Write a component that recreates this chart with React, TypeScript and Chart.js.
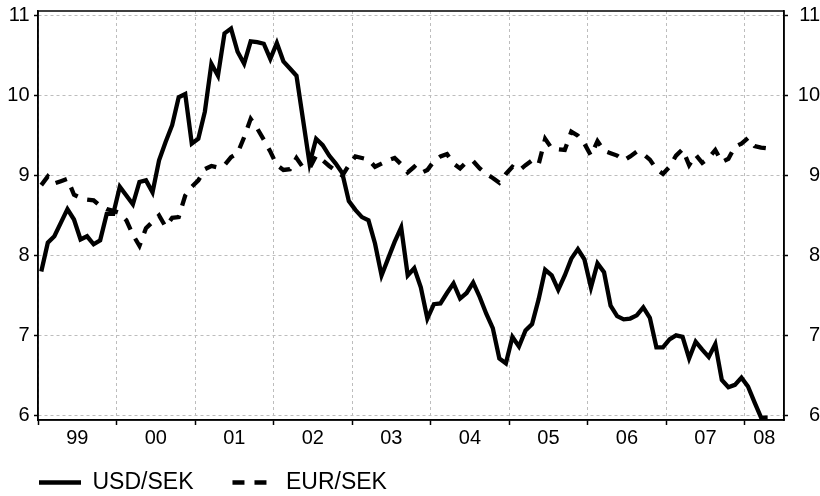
import { useEffect, useRef } from "react";
import { Chart, registerables } from "chart.js";

Chart.register(...registerables);

// Monthly observations, Jan 1999 .. Apr 2008 (x = months since Jan 1999, plotted mid-month)
const USD_SEK: number[] = [
  7.80, 8.16, 8.24, 8.41, 8.58, 8.45, 8.20, 8.24, 8.14, 8.19, 8.52, 8.52,
  8.86, 8.75, 8.64, 8.92, 8.94, 8.79, 9.19, 9.42, 9.63, 9.98, 10.02, 9.40,
  9.46, 9.80, 10.40, 10.25, 10.78, 10.84, 10.55, 10.40, 10.68, 10.67, 10.65, 10.46,
  10.66, 10.43, 10.34, 10.25, 9.70, 9.15, 9.46, 9.38, 9.25, 9.15, 9.03, 8.68,
  8.57, 8.48, 8.44, 8.15, 7.75, 7.96, 8.17, 8.35, 7.75, 7.84, 7.60, 7.21,
  7.39, 7.40, 7.53, 7.65, 7.46, 7.53, 7.66, 7.48, 7.27, 7.09, 6.71, 6.65,
  6.98, 6.86, 7.06, 7.14, 7.45, 7.82, 7.75, 7.57, 7.75, 7.96, 8.08, 7.95,
  7.60, 7.90, 7.79, 7.37, 7.24, 7.20, 7.21, 7.25, 7.35, 7.22, 6.85, 6.85,
  6.95, 7.00, 6.98, 6.71, 6.92, 6.82, 6.73, 6.89, 6.44, 6.35, 6.38, 6.47,
  6.36, 6.16, 5.97, 5.97,
];

const EUR_SEK: number[] = [
  8.88, 8.99, 8.90, 8.93, 8.96, 8.76, 8.72, 8.70, 8.69, 8.62, 8.58, 8.56,
  8.53, 8.44, 8.26, 8.12, 8.34, 8.42, 8.50, 8.36, 8.47, 8.48, 8.75, 8.86,
  8.94, 9.08, 9.12, 9.10, 9.13, 9.23, 9.28, 9.48, 9.71, 9.59, 9.45, 9.30,
  9.13, 9.07, 9.08, 9.22, 9.10, 9.09, 9.25, 9.19, 9.12, 9.06, 9.00, 9.13,
  9.24, 9.22, 9.20, 9.11, 9.15, 9.19, 9.22, 9.14, 9.04, 9.11, 9.03, 9.07,
  9.18, 9.24, 9.27, 9.15, 9.09, 9.17, 9.18, 9.09, 9.02, 8.97, 8.91, 9.02,
  9.11, 9.06, 9.13, 9.19, 9.14, 9.46, 9.34, 9.33, 9.32, 9.55, 9.50, 9.40,
  9.25, 9.43, 9.31, 9.28, 9.25, 9.19, 9.24, 9.30, 9.27, 9.20, 9.08, 9.02,
  9.11, 9.25, 9.33, 9.13, 9.26, 9.16, 9.22, 9.32, 9.17, 9.21, 9.36, 9.40,
  9.47, 9.37, 9.35, 9.34,
];

const YEAR_LABELS: string[] = ["99", "00", "01", "02", "03", "04", "05", "06", "07", "08"];
const Y_TICKS: number[] = [6, 7, 8, 9, 10, 11];
const Y_MIN = 5.94;
const Y_MAX = 11.06;
const X_MIN = 0; // Jan 1999
const X_MAX = 114; // mid 2008

const FONT = "'Liberation Sans', Arial, Helvetica, sans-serif";
const LINE_W = 4.3;

export default function App() {
  const ref = useRef<HTMLCanvasElement>(null);

  useEffect(() => {
    const canvas = ref.current;
    if (!canvas) return;

    const toPoints = (vals: number[]) => vals.map((v, i) => ({ x: i + 0.5, y: v }));
    const yearStarts = YEAR_LABELS.map((_, i) => i * 12);
    const yearCenters = yearStarts.map((s) => (s + Math.min(s + 12, X_MAX)) / 2);

    const frame = {
      id: "frame",
      afterDatasetsDraw(chart: any) {
        const { ctx, chartArea: a } = chart;
        ctx.save();
        ctx.strokeStyle = "#000";
        ctx.lineWidth = 1.5;
        ctx.setLineDash([]);
        ctx.strokeRect(a.left, a.top, a.right - a.left, a.bottom - a.top);
        ctx.restore();
      },
    };

    const chart = new Chart(canvas, {
      type: "line",
      data: {
        datasets: [
          {
            label: "USD/SEK",
            data: toPoints(USD_SEK),
            borderColor: "#000",
            backgroundColor: "#000",
            borderWidth: LINE_W,
            pointRadius: 0,
            tension: 0,
            fill: false,
            xAxisID: "x",
            yAxisID: "y",
          },
          {
            label: "EUR/SEK",
            data: toPoints(EUR_SEK),
            borderColor: "#000",
            backgroundColor: "#000",
            borderWidth: LINE_W,
            borderDash: [12, 10],
            pointRadius: 0,
            tension: 0,
            fill: false,
            xAxisID: "x",
            yAxisID: "y",
          },
        ],
      },
      options: {
        responsive: false,
        animation: false,
        events: [],
        layout: { padding: { top: 11, left: 0, right: 0, bottom: 0 } },
        plugins: {
          legend: {
            position: "bottom",
            align: "start",
            labels: {
              usePointStyle: true,
              pointStyle: "line",
              pointStyleWidth: 42,
              padding: 39,
              color: "#000",
              font: { family: FONT, size: 23 },
              generateLabels: (c: any) => {
                const items = (Chart.defaults as any).plugins.legend.labels.generateLabels(c);
                return items.map((it: any) => {
                  const ds = c.data.datasets[it.datasetIndex];
                  return {
                    ...it,
                    lineDash: ds.borderDash || [],
                    lineWidth: LINE_W,
                    strokeStyle: "#000",
                    fillStyle: "#000",
                    lineCap: "butt",
                  };
                });
              },
            },
          },
          tooltip: { enabled: false },
        },
        scales: {
          x: {
            type: "linear",
            position: "bottom",
            min: X_MIN,
            max: X_MAX,
            afterBuildTicks: (s: any) => {
              s.ticks = yearStarts.map((v) => ({ value: v }));
            },
            afterFit: (s: any) => {
              s.height = 0;
              s.paddingLeft = 0;
              s.paddingRight = 0;
            },
            ticks: { display: false, autoSkip: false },
            grid: {
              color: "#bdbdbd",
              lineWidth: 1,
              drawTicks: true,
              tickLength: 5,
              tickColor: "#000",
              tickWidth: 1.5,
            },
            border: { display: true, color: "#000", width: 1.5, dash: [3, 3] },
          },
          x2: {
            type: "linear",
            axis: "x",
            position: "bottom",
            min: X_MIN,
            max: X_MAX,
            afterBuildTicks: (s: any) => {
              s.ticks = yearCenters.map((v) => ({ value: v }));
            },
            afterFit: (s: any) => {
              s.height = 12;
              s.paddingLeft = 0;
              s.paddingRight = 0;
            },
            grid: { display: false, drawTicks: false },
            border: { display: false },
            ticks: {
              autoSkip: false,
              maxRotation: 0,
              minRotation: 0,
              mirror: true,
              padding: -30.5,
              color: "#000",
              font: { family: FONT, size: 20 },
              callback: (_v: any, i: number) => YEAR_LABELS[i],
            },
          },
          y: {
            type: "linear",
            position: "left",
            min: Y_MIN,
            max: Y_MAX,
            afterBuildTicks: (s: any) => {
              s.ticks = Y_TICKS.map((v) => ({ value: v }));
            },
            afterFit: (s: any) => {
              s.width = 38;
              s.paddingTop = 0;
              s.paddingBottom = 0;
            },
            grid: {
              color: "#bdbdbd",
              lineWidth: 1,
              tickLength: 4,
              tickColor: "#000",
              tickWidth: 1.5,
            },
            border: { color: "#000", width: 1.5, dash: [3, 3] },
            ticks: {
              color: "#000",
              padding: 4.5,
              font: { family: FONT, size: 20 },
            },
          },
          y2: {
            type: "linear",
            axis: "y",
            position: "right",
            min: Y_MIN,
            max: Y_MAX,
            afterBuildTicks: (s: any) => {
              s.ticks = Y_TICKS.map((v) => ({ value: v }));
            },
            afterFit: (s: any) => {
              s.width = 36;
              s.paddingTop = 0;
              s.paddingBottom = 0;
            },
            grid: {
              drawOnChartArea: false,
              tickLength: 4,
              tickColor: "#000",
              tickWidth: 1.5,
            },
            border: { color: "#000", width: 1.5 },
            ticks: {
              color: "#000",
              crossAlign: "far",
              padding: 4,
              font: { family: FONT, size: 20 },
            },
          },
        },
      } as any,
      plugins: [frame],
    });

    return () => chart.destroy();
  }, []);

  return (
    <div style={{ position: "fixed", left: 0, top: 0, width: 820, height: 504, background: "#fff" }}>
      <canvas ref={ref} width={820} height={504} style={{ display: "block", width: 820, height: 504 }} />
    </div>
  );
}
